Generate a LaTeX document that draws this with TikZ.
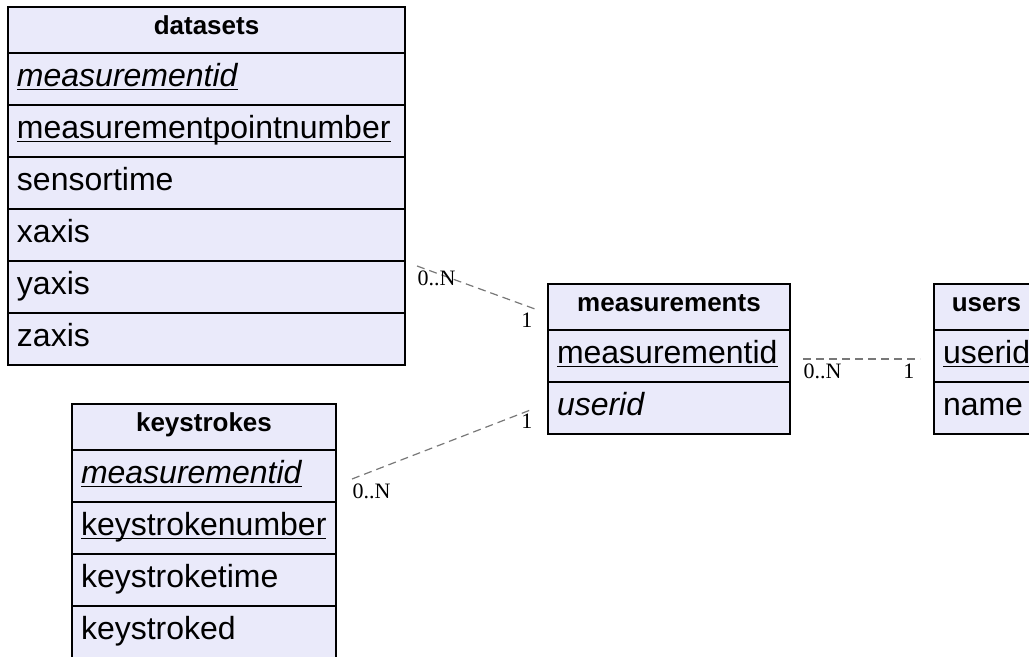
\documentclass[tikz,border=0pt]{standalone}
\usepackage{fontspec}
\setmainfont{Liberation Sans}
\newfontfamily\cardfont{Liberation Serif}
\usepackage{tikz}
\usetikzlibrary{positioning}

\definecolor{tablefill}{RGB}{234,234,250}
\definecolor{relgray}{RGB}{120,120,120}
\newcommand{\pkey}[1]{\underline{\smash{#1}}}

\begin{document}
\begin{tikzpicture}[
        x=0.5pt, y=-0.5pt,
        cell/.style={draw=black, line width=0.8pt, fill=tablefill, outer sep=0pt, inner ysep=0pt},
        head/.style={cell, minimum width=#1, minimum height=23pt, text height=9pt, text depth=4.8pt,
            font=\fontsize{13}{15}\selectfont\bfseries, align=center},
        field/.style={cell, text width=#1, inner xsep=4.5pt, minimum height=26pt, text height=11.5pt,
            text depth=3.7pt, font=\fontsize{16}{19}\selectfont, align=left},
        relation/.style={draw=relgray, dash pattern=on 4pt off 2.5pt, line width=0.6pt},
        card/.style={font=\cardfont\fontsize{11}{13}\selectfont, inner sep=0pt}
    ]
        \useasboundingbox (0, 0) rectangle (1029, 657);
        \clip (0, 0) rectangle (1029, 657);

        % datasets
        \node[head=198.5pt, anchor=north west] (dsHead) at (8, 7) {datasets};
        \node[field=189.5pt, below=0pt of dsHead] (dsMid) {\pkey{\itshape measurementid}};
        \node[field=189.5pt, below=0pt of dsMid] (dsPoint) {\pkey{measurementpointnumber}};
        \node[field=189.5pt, below=0pt of dsPoint] (dsTime) {sensortime};
        \node[field=189.5pt, below=0pt of dsTime] (dsX) {xaxis};
        \node[field=189.5pt, below=0pt of dsX] (dsY) {yaxis};
        \node[field=189.5pt, below=0pt of dsY] (dsZ) {zaxis};

        % keystrokes
        \node[head=132pt, anchor=north west] (ksHead) at (72, 404) {keystrokes};
        \node[field=123pt, below=0pt of ksHead] (ksMid) {\pkey{\itshape measurementid}};
        \node[field=123pt, below=0pt of ksMid] (ksNum) {\pkey{keystrokenumber}};
        \node[field=123pt, below=0pt of ksNum] (ksTime) {keystroketime};
        \node[field=123pt, below=0pt of ksTime] (ksKey) {keystroked};

        % measurements
        \node[head=121pt, anchor=north west] (msHead) at (548, 284) {measurements};
        \node[field=112pt, below=0pt of msHead] (msId) {\pkey{measurementid}};
        \node[field=112pt, below=0pt of msId] (msUser) {\itshape userid};

        % users
        \node[head=52.5pt, anchor=north west] (usHead) at (934, 284) {users};
        \node[field=43.5pt, below=0pt of usHead] (usId) {\pkey{userid}};
        \node[field=43.5pt, below=0pt of usId] (usName) {name};

        \draw[relation] ([shift={(12,5)}]dsY.north east) -- ([shift={(-13,2)}]msHead.west)
            node[card, pos=0, anchor=north west, yshift=-2pt] (dsCard) {0..N}
            node[card, pos=1, anchor=north east, xshift=-1pt, yshift=-1.5pt] (msCardA) {1};
        \draw[relation] ([shift={(16,3)}]ksMid.east) -- ([shift={(-15,1)}]msUser.west)
            node[card, pos=0, anchor=north west, yshift=-2pt] (ksCard) {0..N}
            node[card, pos=1, anchor=north east, yshift=-2pt] (msCardB) {1};
        \draw[relation] ([shift={(13,3)}]msId.east) -- ([shift={(-14,3)}]usId.west)
            node[card, pos=0, anchor=north west, yshift=-2pt] (msCardC) {0..N}
            node[card, pos=1, anchor=north east, xshift=-2.5pt, yshift=-2pt] (usCard) {1};
    \end{tikzpicture}
\end{document}
